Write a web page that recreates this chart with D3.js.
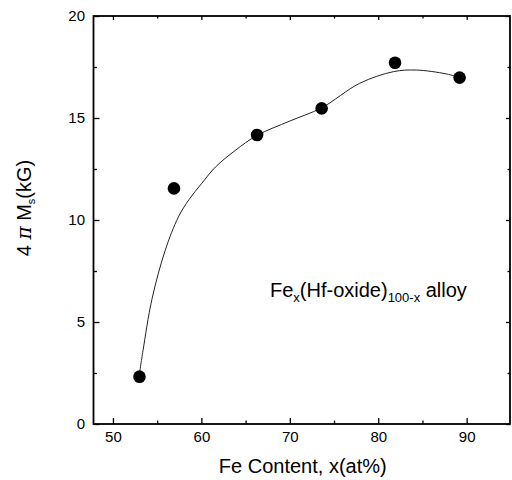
<!DOCTYPE HTML>
<html>
	<head>
		<title>Fe content vs 4 pi Ms</title>
		<meta charset="UTF8">
		<script src='https://d3js.org/d3.v7.min.js'></script>
		<style>
			body
			{
				margin: 0;
				padding: 0;
				background-color: white;
			}
			svg
			{
				display: block;
				font-family: "Liberation Sans", Arial, sans-serif;
			}
			.axis path, .axis line
			{
				stroke: black;
			}
		</style>
	</head>
	<body>
		<svg></svg>
	</body>
	<script>
		// measured points
		const feContent = [53.0, 56.9, 66.3, 73.6, 81.9, 89.2];
		const ms = [2.32, 11.55, 14.17, 15.47, 17.71, 16.98];

		// hand-drawn fit line
		const fitX = [52.97, 53.4, 54.4, 55.9, 57.4, 58.6, 60.05, 61.6, 63.8, 66.3, 70.0, 73.6, 77.9, 81.7, 84.3, 87.7, 89.2];
		const fitY = [2.4, 3.6, 6.1, 8.5, 10.15, 11.0, 11.8, 12.6, 13.4, 14.15, 14.85, 15.5, 16.7, 17.27, 17.35, 17.16, 16.98];

		const xTicks = [50, 60, 70, 80, 90];
		const xMinor = [55, 65, 75, 85];
		const yTicks = [0, 5, 10, 15, 20];
		const yMinor = [2.5, 7.5, 12.5, 17.5];

		const w = 512;
		const h = 480;
		const pLeft = 93.5, pRight = 510, pTop = 16, pBottom = 424;

		const svg = d3.select('svg')
			.attr("width", w)
			.attr("height", h);

		const xScale = d3.scaleLinear()
			.domain([47.8, 94.9])
			.range([pLeft, pRight]);

		const yScale = d3.scaleLinear()
			.domain([0, 20])
			.range([pBottom, pTop]);

		// frame
		svg.append('rect')
			.attr("x", pLeft)
			.attr("y", pTop)
			.attr("width", pRight - pLeft)
			.attr("height", pBottom - pTop)
			.attr("fill", "none")
			.attr("stroke", "black")
			.attr("stroke-width", 1.8);

		// axes, ticks pointing inwards
		function drawAxis(axis, transform, labels) {
			const g = svg.append('g')
				.attr("class", "axis")
				.attr("transform", transform)
				.style("font-size", "15px")
				.style("font-family", "Liberation Sans, Arial, sans-serif")
				.call(axis);
			g.select(".domain").remove();
			g.selectAll("line").attr("stroke-width", 1.3);
			if (!labels) g.selectAll("text").remove();
			return g;
		}

		const xAxis = d3.axisBottom(xScale).tickValues(xTicks).tickSizeInner(-6).tickPadding(7.5).tickFormat(d3.format("d"));
		const xAxisMinor = d3.axisBottom(xScale).tickValues(xMinor).tickSizeInner(-3.5).tickFormat("");
		const yAxis = d3.axisLeft(yScale).tickValues(yTicks).tickSizeInner(-6).tickPadding(8.5).tickFormat(d3.format("d"));
		const yAxisMinor = d3.axisLeft(yScale).tickValues(yMinor).tickSizeInner(-3.5).tickFormat("");

		drawAxis(xAxis, "translate(0," + pBottom + ")", true);
		drawAxis(xAxisMinor, "translate(0," + pBottom + ")", false);
		drawAxis(yAxis, "translate(" + pLeft + ",0)", true);
		drawAxis(yAxisMinor, "translate(" + pLeft + ",0)", false);

		drawAxis(d3.axisTop(xScale).tickValues(xTicks).tickSizeInner(-4), "translate(0," + pTop + ")", false);
		drawAxis(d3.axisTop(xScale).tickValues(xMinor).tickSizeInner(-2.5), "translate(0," + pTop + ")", false);
		drawAxis(d3.axisRight(yScale).tickValues(yTicks).tickSizeInner(-4), "translate(" + pRight + ",0)", false);
		drawAxis(d3.axisRight(yScale).tickValues(yMinor).tickSizeInner(-2.5), "translate(" + pRight + ",0)", false);

		// fit curve
		const line = d3.line()
			.x(d => xScale(d[0]))
			.y(d => yScale(d[1]))
			.curve(d3.curveCatmullRom.alpha(0.5));

		svg.append('path')
			.datum(d3.zip(fitX, fitY))
			.attr("d", line)
			.attr("fill", "none")
			.attr("stroke", "#222")
			.attr("stroke-width", 1);

		// points
		svg.selectAll('circle')
			.data(d3.zip(feContent, ms))
			.enter()
			.append('circle')
			.attr("cx", d => xScale(d[0]))
			.attr("cy", d => yScale(d[1]))
			.attr("r", 6.3)
			.attr("fill", "black");

		// axis titles
		svg.append('text')
			.attr("x", (pLeft + pRight) / 2 + 1)
			.attr("y", 473)
			.attr("text-anchor", "middle")
			.style("font-size", "20px")
			.text("Fe Content, x(at%)");

		const yTitle = svg.append('text')
			.attr("transform", "translate(31,208) rotate(-90)")
			.attr("text-anchor", "middle")
			.style("font-size", "20px");
		yTitle.append('tspan').text("4 ");
		yTitle.append('tspan').style("font-style", "italic").style("font-family", "DejaVu Serif, serif").text("π");
		yTitle.append('tspan').text(" M");
		yTitle.append('tspan').attr("dy", 4).style("font-size", "11px").text("s");
		yTitle.append('tspan').attr("dy", -4).text("(kG)");

		// annotation
		const note = svg.append('text')
			.attr("x", 270)
			.attr("y", 297)
			.style("font-size", "20px");
		note.append('tspan').text("Fe");
		note.append('tspan').attr("dy", 5).style("font-size", "13px").text("x");
		note.append('tspan').attr("dy", -5).text("(Hf-oxide)");
		note.append('tspan').attr("dy", 5).style("font-size", "13px").text("100-x");
		note.append('tspan').attr("dy", -5).text(" alloy");
	</script>
</html>
